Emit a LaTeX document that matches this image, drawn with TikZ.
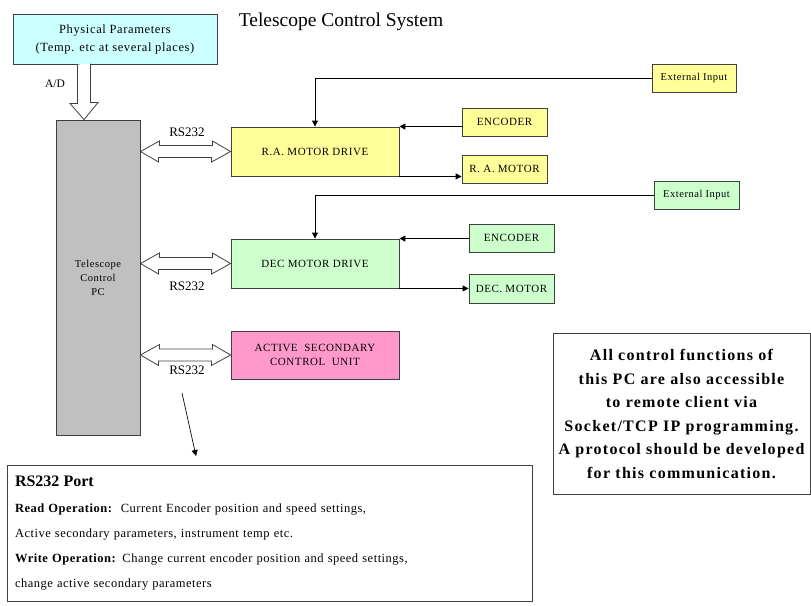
\documentclass[tikz,border=0pt]{standalone}
\usepackage{fontspec}
\setmainfont{Liberation Serif}
\newfontfamily\boxfont[LetterSpace=5]{Liberation Serif}
\newfontfamily\portfont[LetterSpace=4]{Liberation Serif}
\newfontfamily\widebold[LetterSpace=8]{Liberation Serif}
\usetikzlibrary{arrows.meta,positioning}

\definecolor{paramcyan}{HTML}{CCFFFF}
\definecolor{pcgray}{HTML}{C0C0C0}
\definecolor{rayellow}{HTML}{FFFF99}
\definecolor{decgreen}{HTML}{CCFFCC}
\definecolor{secpink}{HTML}{FF99CC}
\definecolor{edgegray}{HTML}{404040}

\tikzset{
  unit/.style={draw=edgegray, line width=0.9pt, rectangle, inner sep=0pt, align=center,
    font=\boxfont\fontsize{11}{14}\selectfont},
  drivebox/.style={unit, minimum width=168pt, minimum height=49pt},
  smallbox/.style={unit, minimum width=85pt, minimum height=28pt},
  hollow/.style={draw=edgegray, fill=white, line width=0.8pt, line join=miter},
  feed/.style={draw=black, line width=0.9pt, -{Triangle[length=6pt,width=6pt]}},
  tag/.style={inner sep=0pt, font=\fontsize{13}{15}\selectfont}
}

% hollow double arrow from the PC to a drive box
\newcommand{\rsarrow}[1]{%
  \draw[hollow] (pc.east |- #1.west) -- ++(19,-10.5) -- ++(0,4.5) -- ++(53,0) -- ++(0,-4.5)
    -- (#1.west) -- ++(-19,10.5) -- ++(0,-4.5) -- ++(-53,0) -- ++(0,4.5) -- cycle;}

\begin{document}
\begin{tikzpicture}[x=1pt,y=-1pt]
        \useasboundingbox (0,0) rectangle (811,605);

        % the title
        \node (title) at (341,22) {\fontsize{19.5}{22}\selectfont Telescope Control System};

        % draw the boxes
        \node[unit, fill=paramcyan, minimum width=204pt, minimum height=50pt,
          font=\boxfont\fontsize{12.5}{18}\selectfont] (phys) at (115,39)
          {Physical Parameters\\(Temp. etc at several places)};
        \node[unit, fill=pcgray, minimum width=84pt, minimum height=315pt,
          font=\boxfont\fontsize{10.5}{14}\selectfont] (pc) at (98,277.5) {Telescope\\Control\\PC};

        \node[drivebox, fill=rayellow] (radrive) at (315,151.5) {R.A. MOTOR DRIVE};
        \node[drivebox, fill=decgreen] (decdrive) at (315,263.5) {DEC MOTOR DRIVE};
        \node[drivebox, fill=secpink, minimum height=48pt] (actsec) at (315,355)
          {ACTIVE \ SECONDARY\\CONTROL \ UNIT};

        \node[smallbox, fill=rayellow, minimum width=84pt, font=\boxfont\fontsize{10.5}{12}\selectfont] (raext) at (694,78) {External Input};
        \node[smallbox, fill=rayellow] (raenc) at (504.5,122) {ENCODER};
        \node[smallbox, fill=rayellow] (ramot) at (504.5,169) {R. A. MOTOR};
        \node[smallbox, fill=decgreen, font=\boxfont\fontsize{10.5}{12}\selectfont] (decext) at (696.5,195) {External Input};
        \node[smallbox, fill=decgreen] (decenc) at (511.5,238) {ENCODER};
        \node[smallbox, fill=decgreen, minimum height=29pt] (decmot) at (511.5,288.5) {DEC. MOTOR};

        \node[unit, fill=white, minimum width=257pt, minimum height=161pt,
          font=\widebold\bfseries\fontsize{16}{23.5}\selectfont] (remote) at (681.5,414)
          {All control functions of\\this PC are also accessible\\to remote client via\\
           Socket/TCP IP programming.\\A protocol should be developed\\for this communication.};

        \node[unit, fill=white, minimum width=525pt, minimum height=136pt, align=left,
          text width=509pt, font=\portfont\fontsize{12.5}{25}\selectfont] (port) at (269.5,533)
          {{\rmfamily\fontsize{16}{20}\selectfont\bfseries RS232 Port}\\[1pt]
           \textbf{Read Operation:}\ \ Current Encoder position and speed settings,\\
           Active secondary parameters, instrument temp etc.\\
           \textbf{Write Operation:} Change current encoder position and speed settings,\\
           change active secondary parameters};

        % the texts
        \node[tag, font=\fontsize{11.5}{13}\selectfont] (ad) at (55,84) {A/D};
        \node[tag] (rsra) at (187,132) {RS232};
        \node[tag] (rsdec) at (187,286) {RS232};
        \node[tag] (rssec) at (187,370) {RS232};

        % draw the hollow arrows
        \coordinate (adtop) at (phys.south -| 84,0);
        \draw[hollow] (adtop) ++(-6.5,0) -- ++(0,39) -- ++(-7.5,0) -- (pc.north -| adtop)
          -- ++(14,-17) -- ++(-7.5,0) -- ++(0,-39);
        \rsarrow{radrive}
        \rsarrow{decdrive}
        \rsarrow{actsec}

        % draw the arrows
        \draw[feed] (raext.west) -| (radrive.north);
        \draw[feed] (raenc.west |- radrive.north east) -- (radrive.north east);
        \draw[feed] (radrive.south east) -- (radrive.south east -| ramot.west);
        \draw[feed] (decext.west) -| (decdrive.north);
        \draw[feed] (decenc.west |- decdrive.north east) -- (decdrive.north east);
        \draw[feed] (decdrive.south east) -- (decdrive.south east -| decmot.west);

        \coordinate (ptrstart) at (182,393);
        \coordinate (ptrend) at (196,456);
        \draw[feed, line width=0.7pt] (ptrstart) -- (ptrend);

    \end{tikzpicture}
\end{document}
